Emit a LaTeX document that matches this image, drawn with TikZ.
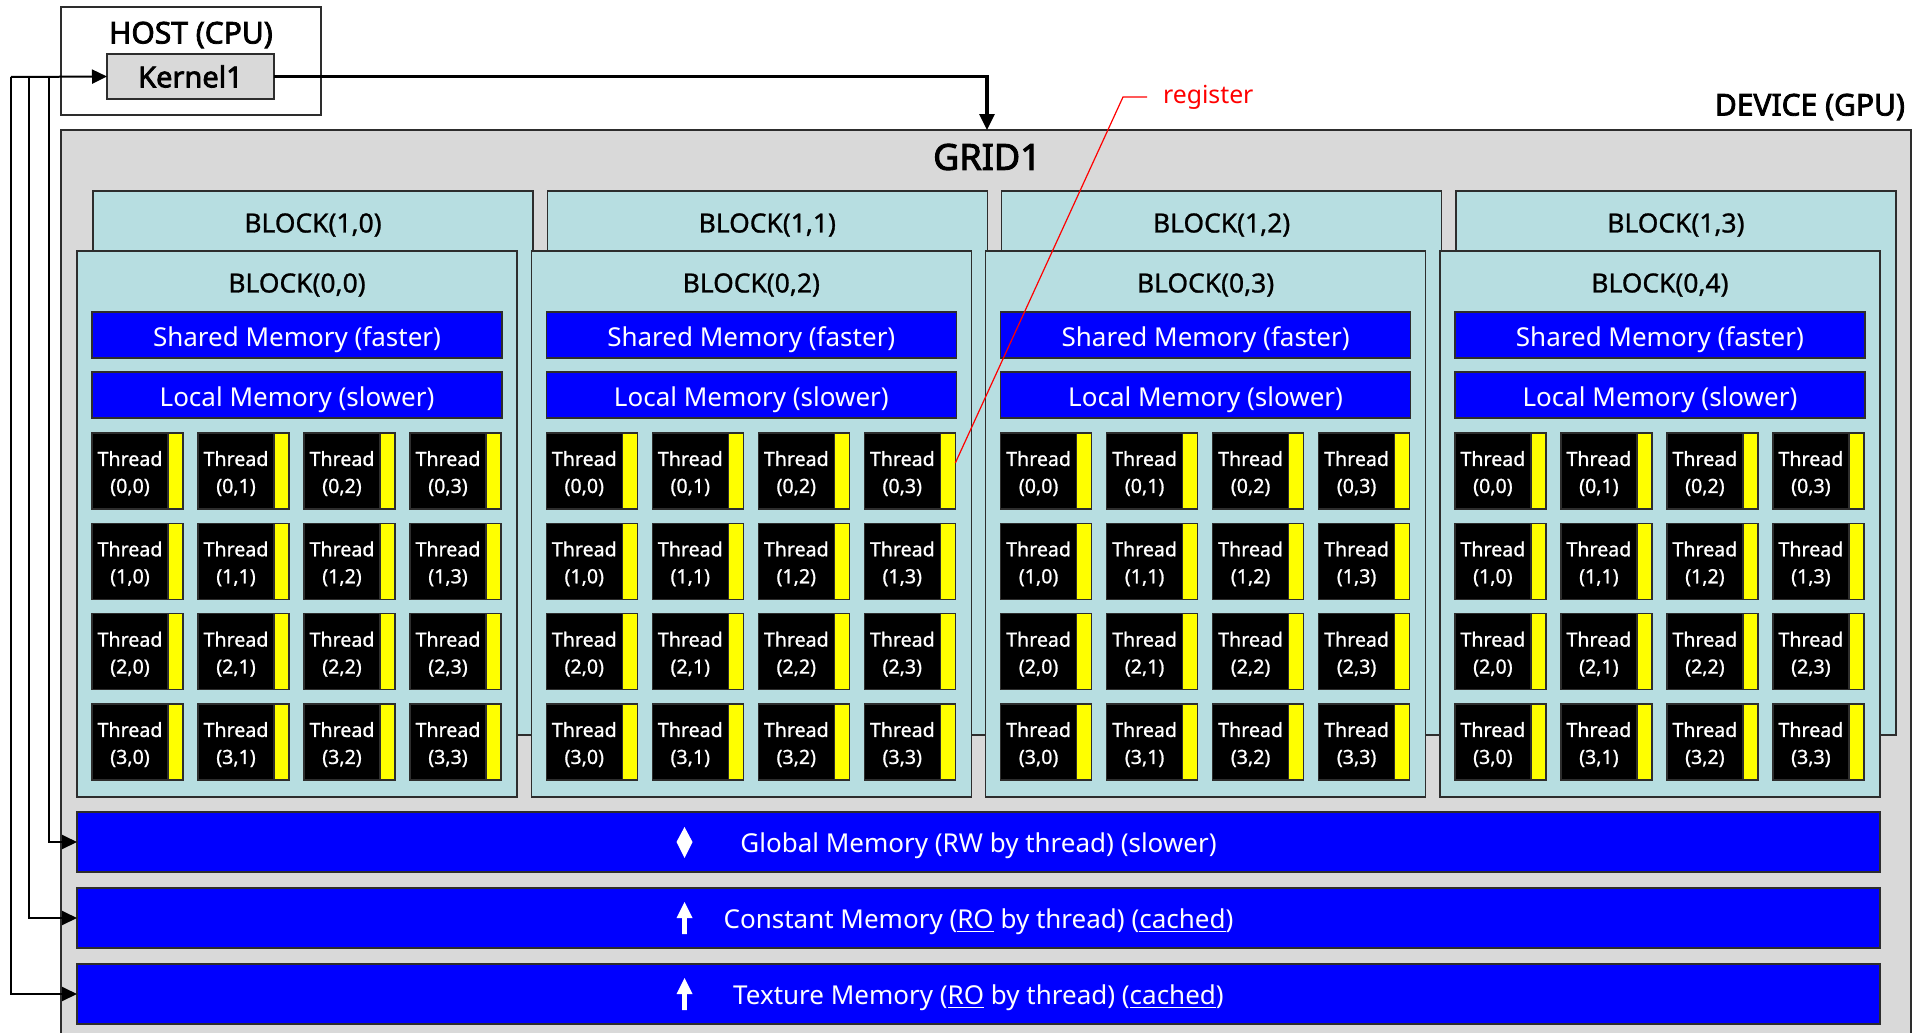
\documentclass[tikz,border=0pt]{standalone}
\usepackage{fontspec}
\setmainfont{Noto Sans}
\newfontfamily\heavyfam{Noto Sans}[FakeBold=2.6]
\newfontfamily\medfam{Noto Sans}[FakeBold=1.0]
\usetikzlibrary{arrows.meta,calc}
\definecolor{gridgray}{RGB}{217,217,217}
\definecolor{blockblue}{RGB}{183,222,225}
\definecolor{memblue}{RGB}{0,0,255}
\definecolor{regyellow}{RGB}{255,255,0}
\definecolor{edgecol}{RGB}{45,45,45}
\definecolor{regred}{RGB}{255,0,0}
\begin{document}
\begin{tikzpicture}[x=0.5pt,y=-0.5pt,
  box/.style={draw=edgecol,line width=0.75pt,inner sep=0pt,outer sep=0pt,anchor=north west},
  lbl/.style={inner sep=0pt,outer sep=0pt},
  bigbold/.style={font=\heavyfam\fontsize{15}{18}\selectfont},
  blocklbl/.style={lbl,font=\medfam\fontsize{13.2}{16}\selectfont},
  blockbox/.style={box,fill=blockblue,minimum width=220pt},
  memtext/.style={text=white,font=\fontsize{13}{16}\selectfont,text depth=0pt},
  smem/.style={box,fill=memblue,minimum width=205pt,minimum height=23pt,memtext,text height=11.6pt},
  gmem/.style={box,fill=memblue,minimum width=901.5pt,minimum height=30pt,memtext,text height=10pt},
  threadbox/.style={box,fill=black,minimum width=38pt,minimum height=38pt,align=center,text=white,font=\medfam\fontsize{9.8}{13.5}\selectfont},
  ybar/.style={box,fill=regyellow,minimum width=7.5pt,minimum height=38pt},
  conn/.style={draw=black,line width=1pt,-{Triangle[length=7.5pt,width=7pt]}},
  kconn/.style={draw=black,line width=1.6pt,-{Triangle[length=8pt,width=7.5pt]}}
]
\useasboundingbox (0,0) rectangle (1918,1033);
% host
\node[box,fill=white,minimum width=130pt,minimum height=54pt] (host) at (61,7) {};
\node[lbl,bigbold] (hostlbl) at (191,35) {HOST (CPU)};
\node[box,fill=gridgray,minimum width=83.5pt,minimum height=22.5pt,anchor=center,font=\heavyfam\fontsize{14.5}{17}\selectfont] (kernel) at (190.5,76.5) {Kernel1};
% device
\node[box,fill=gridgray,minimum width=925pt,minimum height=460pt] (device) at (61,130) {};
\node[lbl,bigbold,anchor=east] (devlbl) at (1905,107) {DEVICE (GPU)};
\node[lbl,font=\heavyfam\fontsize{18}{21}\selectfont] (grid) at (987,157) {GRID1};
% back blocks
\foreach \k in {0,...,3}{
  \node[blockbox,minimum height=272pt] (b1-\k) at ({93+454.3*\k},191) {};
  \node[blocklbl] (b1l-\k) at ({313+454.3*\k},225) {BLOCK(1,\k)};
}
% front blocks
\foreach \k/\m in {0/0,1/2,2/3,3/4}{
  \pgfmathsetmacro{\bx}{77+454.3*\k}
  \node[blockbox,minimum height=273pt] (b0-\k) at (\bx,251) {};
  \node[blocklbl] (b0l-\k) at (\bx+220,285) {BLOCK(0,\m)};
  \node[smem] (sh-\k) at (\bx+15,312) {Shared Memory (faster)};
  \node[smem] (lo-\k) at (\bx+15,372) {Local Memory (slower)};
  \foreach \i in {0,...,3}{
    \foreach \j in {0,...,3}{
      \node[threadbox] (t-\k-\i-\j) at (\bx+15+106*\j,433+90.33*\i) {\rule{0pt}{10pt}Thread\\(\i,\j)};
      \node[ybar] (y-\k-\i-\j) at (t-\k-\i-\j.north east) {};
    }
  }
}
% global memories
\node[gmem] (global) at (77,812) {Global Memory (RW by thread) (slower)};
\node[gmem] (constant) at (77,888) {Constant Memory (\underline{RO} by thread) (\underline{cached})};
\node[gmem] (texture) at (77,964) {Texture Memory (\underline{RO} by thread) (\underline{cached})};
% symbols
\fill[white] (684.5,827) -- (692.5,842) -- (684.5,858) -- (676.5,842) -- cycle;
\fill[white] (684.5,902) -- (692.5,918) -- (686.8,918) -- (686.8,934) -- (682.2,934) -- (682.2,918) -- (676.5,918) -- cycle;
\fill[white] (684.5,978) -- (692.5,994) -- (686.8,994) -- (686.8,1010) -- (682.2,1010) -- (682.2,994) -- (676.5,994) -- cycle;
% connectors
\coordinate (la) at (49,77);
\coordinate (lb) at (29,77);
\coordinate (lc) at (11,77);
\draw[conn] (lc) -- (kernel.west);
\draw[conn] (la) |- (global.west);
\draw[conn] (lb) |- (constant.west);
\draw[conn] (lc) |- (texture.west);
\draw[kconn] (kernel.east) -| (grid.north |- device.north);
% register
\node[lbl,text=regred,font=\fontsize{12.4}{15}\selectfont,anchor=west] (reg) at (1163,97) {register};
\draw[regred,line width=0.6pt] (reg.west) ++(-16,0) -- ++(-24,0) -- ([yshift=4pt]y-1-0-3.east);
\end{tikzpicture}
\end{document}
